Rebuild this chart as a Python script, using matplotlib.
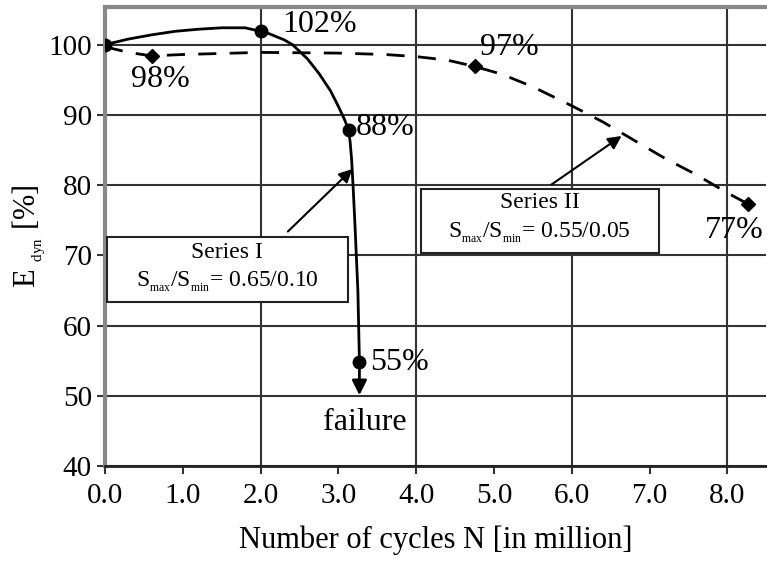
import matplotlib.pyplot as plt
from matplotlib.patches import Rectangle

# ==========================================
# DATA
# ==========================================

# series I, solid curve (S_max/S_min = 0.65/0.10)
s1_curve_x = [0.0, 0.3, 0.6, 0.9, 1.2, 1.5, 1.8, 2.0, 2.1, 2.3, 2.41, 2.6,
              2.75, 2.9, 3.0, 3.08, 3.13, 3.15, 3.17, 3.19, 3.21, 3.23, 3.25,
              3.26, 3.27]
s1_curve_y = [100.0, 100.8, 101.4, 101.9, 102.2, 102.4, 102.4, 101.9, 101.6,
              100.7, 100.0, 98.0, 95.9, 93.4, 91.2, 89.3, 87.9, 86.2, 83.6,
              79.5, 75.0, 70.0, 65.0, 60.0, 54.8]
s1_points_x = [0.0, 2.0, 3.13, 3.27]
s1_points_y = [100.0, 101.9, 87.9, 54.8]

# series II, dashed curve (S_max/S_min = 0.55/0.05)
s2_curve_x = [0.0, 0.3, 0.6, 1.0, 2.0, 3.0, 3.6, 4.0, 4.4, 4.75, 5.1, 5.5,
              6.0, 6.4, 6.8, 7.2, 7.6, 7.8, 8.0, 8.27]
s2_curve_y = [99.7, 98.9, 98.4, 98.6, 98.9, 98.8, 98.6, 98.3, 97.8, 96.9,
              95.8, 94.0, 91.3, 89.0, 86.4, 83.8, 81.5, 80.2, 78.9, 77.3]
s2_points_x = [0.6, 4.75, 8.27]
s2_points_y = [98.4, 96.9, 77.3]

x_ticks = [0, 1, 2, 3, 4, 5, 6, 7, 8]
x_grid = [0, 2, 4, 6, 8]
y_ticks = [40, 50, 60, 70, 80, 90, 100]

# ==========================================
# STYLE
# ==========================================

plt.rcParams["font.family"] = ["Liberation Serif", "DejaVu Serif"]
plt.rcParams["mathtext.fontset"] = "custom"
plt.rcParams["mathtext.rm"] = "Liberation Serif"
plt.rcParams["mathtext.it"] = "Liberation Serif:italic"

fig = plt.figure(figsize=(7.67, 5.61), dpi=100)
ax = fig.add_axes([0.137, 0.169, 0.862, 0.819])

ax.set_xlim(0, 8.5)
ax.set_ylim(40, 105.4)

ax.set_xticks(x_ticks)
ax.set_xticklabels([f"{v:.1f}" for v in x_ticks])
ax.set_yticks(y_ticks)
ax.tick_params(axis="both", labelsize=21, direction="out", length=6,
               width=1.5, color="#333333")
ax.tick_params(axis="x", pad=6)

for v in x_grid:
    ax.axvline(v, color="#333333", lw=1.5, zorder=1)
for v in y_ticks:
    ax.axhline(v, color="#333333", lw=1.5, zorder=1)

for side in ["left", "top"]:
    ax.spines[side].set_color("#888888")
    ax.spines[side].set_linewidth(3)
ax.spines["bottom"].set_color("#222222")
ax.spines["bottom"].set_linewidth(2)
ax.spines["right"].set_visible(False)

# ==========================================
# CURVES
# ==========================================

ax.plot(s1_curve_x, s1_curve_y, color="black", lw=2, zorder=3)
ax.plot(s1_points_x, s1_points_y, "o", color="black", ms=9, zorder=4)

ax.plot(s2_curve_x, s2_curve_y, color="black", lw=2,
        linestyle=(0, (6.5, 4.8)), zorder=3)
ax.plot(s2_points_x, s2_points_y, "D", color="black", ms=7, zorder=4)

# failure arrow below the last point of series I
ax.annotate("", xy=(s1_points_x[-1], 50.1), xytext=(s1_points_x[-1], s1_points_y[-1]),
            arrowprops=dict(arrowstyle="-|>", color="black", lw=2,
                            mutation_scale=22, shrinkA=0, shrinkB=0), zorder=4)

# ==========================================
# LABELS
# ==========================================

pct = dict(fontsize=23, va="center", zorder=5)
ax.text(2.28, 102.85, "102%", ha="left", **pct)
ax.text(0.71, 95.0, "98%", ha="center", **pct)
ax.text(3.22, 88.2, "88%", ha="left", **pct)
ax.text(3.41, 54.7, "55%", ha="left", **pct)
ax.text(3.34, 46.2, "failure", ha="center", **pct)
ax.text(5.2, 99.6, "97%", ha="center", **pct)
ax.text(8.09, 73.6, "77%", ha="center", **pct)

# annotation boxes
ax.add_patch(Rectangle((0.03, 63.4), 3.09, 9.25, facecolor="white",
                       edgecolor="#222222", lw=1.5, zorder=5))
ax.text(1.57, 70.4, "Series I", ha="center", va="center", fontsize=17, zorder=6)
ax.text(1.57, 66.2, r"S$_{_{\rm max}}$/S$_{_{\rm min}}$= 0.65/0.10", ha="center",
        va="center", fontsize=17, zorder=6)
ax.annotate("", xy=(3.18, 82.3), xytext=(2.35, 73.4),
            arrowprops=dict(arrowstyle="-|>", color="black", lw=1.5,
                            mutation_scale=20, shrinkA=0, shrinkB=0), zorder=6)

ax.add_patch(Rectangle((4.06, 70.4), 3.06, 9.1, facecolor="white",
                       edgecolor="#222222", lw=1.5, zorder=5))
ax.text(5.59, 77.5, "Series II", ha="center", va="center", fontsize=17, zorder=6)
ax.text(5.59, 73.2, r"S$_{_{\rm max}}$/S$_{_{\rm min}}$= 0.55/0.05", ha="center",
        va="center", fontsize=17, zorder=6)
ax.annotate("", xy=(6.64, 87.0), xytext=(5.74, 80.1),
            arrowprops=dict(arrowstyle="-|>", color="black", lw=1.5,
                            mutation_scale=20, shrinkA=0, shrinkB=0), zorder=6)

ax.set_xlabel("Number of cycles N [in million]", fontsize=22, labelpad=12)
ax.set_ylabel(r"E $_{_{\rm dyn}}$ [%]", fontsize=22, labelpad=0)

fig.savefig("out.png", dpi=100)
